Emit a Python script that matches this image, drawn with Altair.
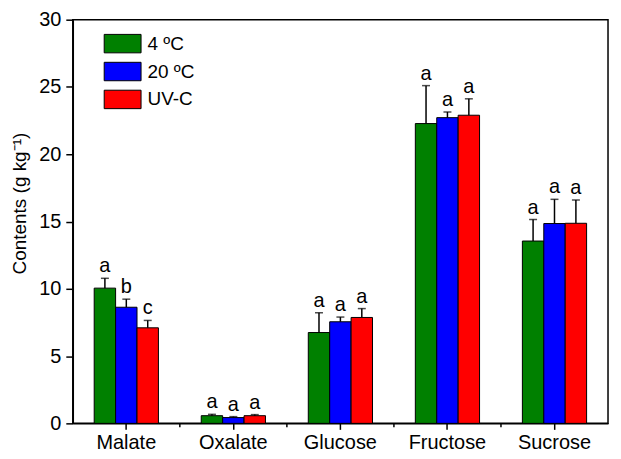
import altair as alt
import pandas as pd

# ---- data ----
categories = ["Malate", "Oxalate", "Glucose", "Fructose", "Sucrose"]
treatments = ["4 ºC", "20 ºC", "UV-C"]
colors = ["#008000", "#0000FF", "#FF0000"]

means_4C = [10.05, 0.57, 6.75, 22.28, 13.55]
means_20C = [8.63, 0.43, 7.55, 22.72, 14.85]
means_UVC = [7.10, 0.57, 7.87, 22.90, 14.87]

err_4C = [0.73, 0.10, 1.47, 2.82, 1.60]
err_20C = [0.60, 0.07, 0.35, 0.42, 1.80]
err_UVC = [0.55, 0.08, 0.66, 1.22, 1.73]

letters_4C = ["a", "a", "a", "a", "a"]
letters_20C = ["b", "a", "a", "a", "a"]
letters_UVC = ["c", "a", "a", "a", "a"]

y_major = [0, 5, 10, 15, 20, 25, 30]
y_minor = [2.5, 7.5, 12.5, 17.5, 22.5, 27.5]

rows = []
for t, means, errs, lets in zip(
    treatments,
    [means_4C, means_20C, means_UVC],
    [err_4C, err_20C, err_UVC],
    [letters_4C, letters_20C, letters_UVC],
):
    for c, m, e, l in zip(categories, means, errs, lets):
        rows.append({"category": c, "treatment": t, "mean": m, "top": m + e, "letter": l})
df = pd.DataFrame(rows)

bounds = pd.DataFrame({"b": list(range(1, len(categories)))})

W, H = 537, 405
FONT = "Liberation Sans"

x = alt.X(
    "category:N",
    sort=categories,
    scale=alt.Scale(paddingInner=0.4, paddingOuter=0.2),
    axis=alt.Axis(
        title=None, labelAngle=0, labelFont=FONT, labelFontSize=20, labelColor="black",
        tickSize=6, tickColor="black", tickWidth=1.5,
        domainColor="black", domainWidth=1.5, labelPadding=3,
    ),
)
xo = alt.XOffset("treatment:N", sort=treatments, scale=alt.Scale(paddingInner=0, paddingOuter=0))

y = alt.Y(
    "mean:Q",
    scale=alt.Scale(domain=[0, 30], nice=False),
    axis=alt.Axis(
        values=sorted(y_major + y_minor),
        labelExpr="datum.value % 5 === 0 ? datum.label : ''",
        tickSize={"condition": {"test": "datum.value % 5 === 0", "value": 7}, "value": 4},
        tickColor="black", tickWidth=1.5, domainColor="black", domainWidth=1.5,
        labelFont=FONT, labelFontSize=20, labelColor="black", labelPadding=5,
        title="Contents  (g kg⁻¹)", titleFont=FONT, titleFontSize=19,
        titleFontWeight="normal", titleColor="black", titlePadding=9,
        titleY=184,
        grid=False,
    ),
)

color = alt.Color(
    "treatment:N",
    sort=treatments,
    scale=alt.Scale(domain=treatments, range=colors),
    legend=alt.Legend(
        title=None, orient="none", legendX=40, legendY=14,
        symbolType="M-2,-1H2V1H-2Z", symbolSize=342,
        symbolStrokeColor="black", symbolStrokeWidth=1,
        labelFont=FONT, labelFontSize=19, labelColor="black",
        labelOffset=15, rowPadding=4,
    ),
)

base = alt.Chart(df)

bars = base.mark_bar(stroke="black", strokeWidth=1).encode(x=x, xOffset=xo, y=y, color=color)
err = base.mark_rule(color="black", strokeWidth=1.5).encode(x=x, xOffset=xo, y="mean:Q", y2="top:Q")
caps = base.mark_tick(color="black", size=8, thickness=1.5).encode(x=x, xOffset=xo, y="top:Q")
txt = base.mark_text(font=FONT, fontSize=20, baseline="alphabetic", dy=-6, color="black").encode(
    x=x, xOffset=xo, y="top:Q", text="letter:N"
)
main = alt.layer(bars, err, caps, txt)

minor_x = alt.Chart(bounds).mark_rule(color="black", strokeWidth=1.5).encode(
    x=alt.X("b:Q", scale=alt.Scale(domain=[0, len(categories)], nice=False, zero=False), axis=None),
    y=alt.value(H),
    y2=alt.value(H + 4),
)

chart = (
    alt.layer(main, minor_x)
    .resolve_scale(x="independent")
    .properties(
        width=W, height=H,
        autosize=alt.AutoSizeParams(type="none"),
        padding={"left": 65, "top": 11, "right": 5, "bottom": 28},
        background="white",
    )
    .configure_view(stroke="black", strokeWidth=1.5)
)

chart.save("out.html", embed_options={"renderer": "svg", "actions": False})
